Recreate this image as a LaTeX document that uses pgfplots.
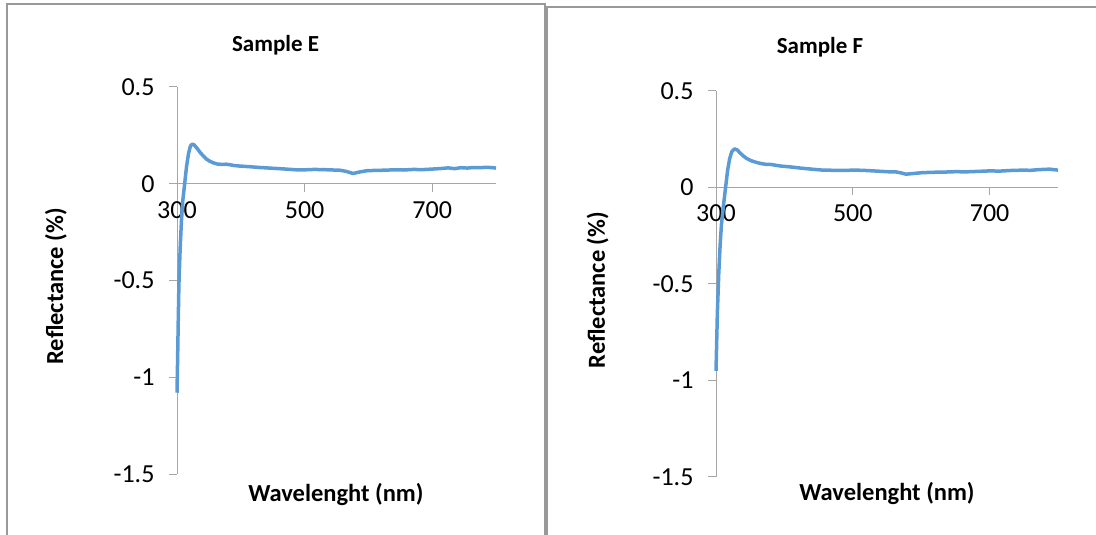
\documentclass[border=0pt]{standalone}
\usepackage{fontspec}
\setmainfont{Carlito}
\usepackage{pgfplots}
\usepackage{pgfplotstable}
\pgfplotsset{compat=1.18}

\definecolor{series}{HTML}{5B9BD5}
\definecolor{axisgray}{HTML}{A6A6A6}
\definecolor{framegray}{HTML}{999999}

% Reflectance spectra (wavelength in nm, reflectance)
\pgfplotstableread{
wl r
300 -1.08
301 -0.90
302 -0.70
303 -0.52
305 -0.33
307 -0.19
309 -0.09
312 0.00
315 0.09
318 0.155
321 0.195
324 0.205
327 0.200
331 0.185
336 0.163
341 0.144
346 0.128
351 0.117
357 0.108
363 0.102
370 0.100
377 0.101
383 0.098
390 0.094
400 0.091
414 0.088
430 0.084
450 0.080
470 0.076
487 0.072
500 0.072
515 0.074
530 0.073
545 0.071
555 0.070
565 0.064
576 0.053
585 0.060
597 0.067
610 0.069
625 0.070
640 0.072
655 0.071
670 0.074
685 0.073
701 0.076
715 0.079
725 0.082
735 0.078
745 0.083
755 0.081
765 0.084
775 0.083
785 0.085
795 0.083
800 0.081
}\sampleE

\pgfplotstableread{
wl r
300 -0.95
301 -0.80
302 -0.65
304 -0.45
306 -0.30
308 -0.19
311 -0.09
314 0.00
317 0.09
320 0.15
323 0.185
327 0.200
331 0.195
335 0.180
340 0.163
345 0.150
352 0.138
359 0.130
366 0.124
373 0.120
379 0.120
386 0.116
395 0.111
408 0.107
425 0.100
440 0.095
456 0.090
475 0.089
490 0.089
505 0.090
520 0.088
535 0.085
554 0.081
563 0.081
570 0.076
578 0.069
590 0.073
602 0.077
620 0.079
635 0.080
651 0.082
665 0.081
680 0.083
700 0.086
715 0.085
730 0.088
749 0.090
760 0.089
770 0.092
780 0.094
788 0.095
795 0.092
800 0.090
}\sampleF

\pgfplotsset{
  panel/.style={
    scale only axis,
    xmin=300, xmax=800, ymin=-1.5, ymax=0.5,
    axis x line=middle, axis y line=left,
    axis line style={axisgray, line width=1bp, -},
    xtick={300,500,700}, xticklabels={300,500,700},
    ytick={-1.5,-1,-0.5,0,0.5}, yticklabels={-1.5,-1,-0.5,0,0.5},
    hide obscured x ticks=false,
    hide obscured y ticks=false,
    tick align=outside,
    major tick length=8bp,
    tick style={axisgray, line width=1bp},
    tick label style={font=\fontsize{26bp}{30bp}\selectfont, text=black},
    xticklabel style={anchor=north, yshift=-6bp},
    yticklabel style={anchor=east, xshift=-11bp},
    every axis title/.style={font=\fontsize{23bp}{27bp}\selectfont\bfseries, anchor=base},
    xlabel style={font=\fontsize{24.5bp}{28bp}\selectfont\bfseries, anchor=base},
    ylabel style={font=\fontsize{24.5bp}{28bp}\selectfont\bfseries, anchor=base},
    clip=false,
  },
  spectrum/.style={series, line width=3.5bp, line join=round, no marks},
}

\begin{document}
\begin{tikzpicture}
\useasboundingbox (0,0) rectangle (1096bp,535bp);

% chart frames
\draw[framegray, line width=1.5bp] (7bp,-2bp) -- (7bp,531bp) -- (545bp,531bp) -- (545bp,-2bp);
\draw[framegray, line width=1.5bp] (547bp,-2bp) -- (547bp,528bp) -- (1100bp,528bp);

\begin{axis}[panel,
  at={(177bp,61bp)}, anchor=south west,
  width=319bp, height=387bp,
  title={Sample E},
  title style={at={(axis description cs:0.309,1.093)}},
  xlabel={Wavelenght (nm)},
  xlabel style={at={(axis description cs:0.498,-0.072)}},
  ylabel={Reflectance (\%)},
  ylabel style={at={(axis description cs:-0.357,0.485)}},
]
\addplot[spectrum] table[x=wl, y=r] {\sampleE};
\end{axis}

\begin{axis}[panel,
  at={(716bp,58bp)}, anchor=south west,
  width=342bp, height=386bp,
  title={Sample F},
  title style={at={(axis description cs:0.304,1.096)}},
  xlabel={Wavelenght (nm)},
  xlabel style={at={(axis description cs:0.5,-0.06)}},
  ylabel={Reflectance (\%)},
  ylabel style={at={(axis description cs:-0.325,0.484)}},
]
\addplot[spectrum] table[x=wl, y=r] {\sampleF};
\end{axis}
\end{tikzpicture}
\end{document}
